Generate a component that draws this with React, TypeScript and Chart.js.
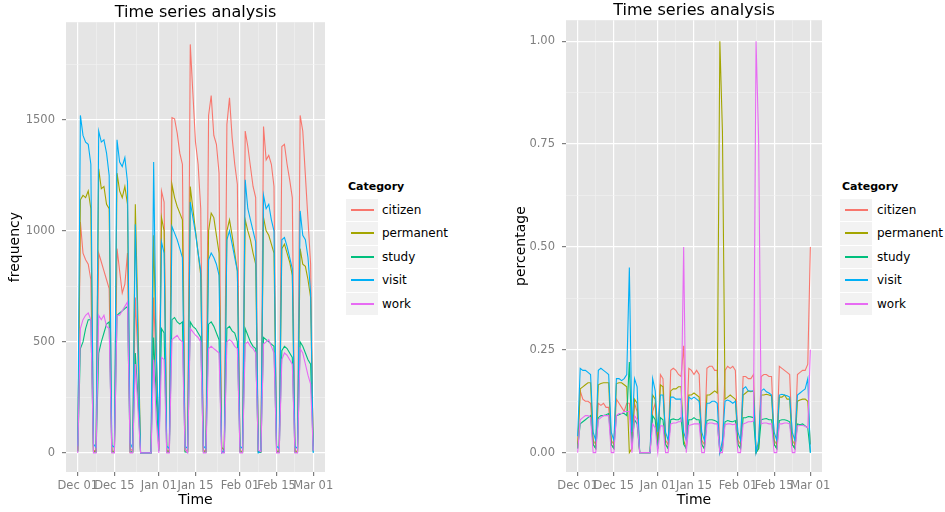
import { useEffect, useRef } from 'react';
import { Chart, ChartConfiguration, registerables } from 'chart.js';

Chart.register(...registerables);

// Categories and ggplot hue colours
const categories = ['citizen', 'permanent', 'study', 'visit', 'work'];
const colors = ['#F8766D', '#A3A500', '#00BF7D', '#00B0F6', '#E76BF3'];

// x axis: day index from Dec 01 (0) to Mar 01 (90)
const tickDays = [0, 14, 31, 45, 62, 76, 90];
const tickLabels = ['Dec 01', 'Dec 15', 'Jan 01', 'Jan 15', 'Feb 01', 'Feb 15', 'Mar 01'];
const minorDays = [7, 22.5, 38, 53.5, 69, 83];

const freqMajor = [0, 500, 1000, 1500];
const freqMinor = [250, 750, 1250, 1750];
const pctMajor = [0, 0.25, 0.5, 0.75, 1];
const pctMinor = [0.125, 0.375, 0.625, 0.875];

// frequency per day (rows = weeks, Mon..Sun)
const freqCitizen = [
  10,
  1040, 900, 870, 850, 780, 12, 8,
  900, 860, 820, 780, 740, 10, 6,
  920, 820, 720, 760, 900, 20, 8,
  700, 420, 0, 0, 0, 0, 0,
  700, 380, 25, 1180, 1130, 12, 8,
  1510, 1505, 1440, 1350, 1300, 15, 10,
  1840, 1620, 1400, 1300, 1100, 12, 8,
  1520, 1610, 1430, 1390, 1260, 6, 8,
  1480, 1600, 1420, 1300, 1210, 10, 8,
  1450, 1380, 1290, 1200, 1150, 5, 6,
  1470, 1320, 1340, 1300, 1200, 10, 8,
  1380, 1390, 1300, 1230, 1150, 10, 8,
  1520, 1450, 1250, 1050, 850, 30,
];
const freqPermanent = [
  8,
  1140, 1160, 1150, 1180, 1100, 8, 5,
  1280, 1190, 1200, 1120, 1100, 6, 5,
  1260, 1180, 1150, 1200, 1120, 3, 5,
  1120, 600, 0, 0, 0, 0, 0,
  980, 450, 15, 1060, 1000, 6, 5,
  1210, 1150, 1110, 1080, 1050, 8, 5,
  1200, 1100, 1000, 900, 800, 6, 5,
  1000, 1080, 1060, 980, 900, 25, 12,
  1000, 1050, 980, 900, 820, 6, 5,
  1050, 1000, 960, 900, 850, 4, 5,
  1060, 1000, 980, 940, 900, 6, 5,
  920, 940, 900, 860, 800, 6, 5,
  920, 850, 840, 780, 700, 10,
];
const freqStudy = [
  5,
  470, 500, 560, 600, 600, 4, 3,
  450, 500, 540, 580, 590, 4, 3,
  620, 630, 640, 650, 660, 6, 3,
  450, 250, 0, 0, 0, 0, 0,
  520, 250, 8, 560, 540, 4, 3,
  600, 610, 590, 580, 590, 4, 3,
  590, 570, 560, 540, 520, 4, 3,
  580, 590, 570, 540, 510, 3, 2,
  560, 570, 550, 540, 500, 4, 3,
  560, 530, 500, 480, 470, 3, 2,
  520, 510, 500, 490, 480, 4, 3,
  460, 480, 470, 450, 430, 3, 2,
  500, 480, 450, 420, 400, 5,
];
const freqVisit = [
  30,
  1520, 1430, 1400, 1390, 1300, 40, 25,
  1450, 1400, 1410, 1350, 1250, 35, 25,
  1410, 1310, 1290, 1330, 1220, 45, 20,
  1030, 500, 0, 0, 0, 0, 0,
  1310, 450, 60, 950, 900, 30, 20,
  1020, 990, 960, 920, 880, 30, 20,
  1130, 1060, 990, 900, 820, 30, 20,
  870, 900, 880, 850, 800, 0, 10,
  960, 1000, 940, 880, 820, 30, 20,
  1230, 1100, 1050, 1000, 950, 0, 10,
  1160, 1100, 1120, 1050, 1000, 30, 20,
  960, 970, 930, 880, 830, 30, 20,
  1090, 980, 960, 880, 720, 0,
];
const freqWork = [
  0,
  560, 600, 620, 630, 600, 0, 0,
  620, 600, 620, 570, 560, 0, 0,
  620, 620, 640, 660, 680, 0, 0,
  400, 200, 0, 0, 0, 0, 0,
  420, 150, 0, 430, 420, 0, 0,
  510, 520, 530, 510, 500, 15, 0,
  560, 545, 530, 520, 500, 0, 0,
  470, 480, 470, 460, 450, 0, 0,
  500, 510, 500, 480, 470, 0, 0,
  490, 500, 480, 470, 450, 12, 6,
  490, 500, 510, 480, 450, 0, 0,
  420, 450, 440, 420, 400, 0, 0,
  470, 450, 400, 350, 310, 10,
];

// share per day
const pctCitizen = [
  0.02,
  0.15, 0.13, 0.125, 0.125, 0.12, 0.03, 0.02,
  0.12, 0.115, 0.12, 0.11, 0.11, 0.03, 0.02,
  0.13, 0.12, 0.11, 0.10, 0.12, 0.12, 0.03,
  0.12, 0.10, 0, 0, 0, 0, 0,
  0.10, 0.12, 0.02, 0.19, 0.18, 0.03, 0.02,
  0.20, 0.205, 0.20, 0.19, 0.185, 0.26, 0.03,
  0.205, 0.20, 0.19, 0.20, 0.19, 0.03, 0.02,
  0.205, 0.21, 0.21, 0.20, 0.20, 0, 0.02,
  0.20, 0.21, 0.205, 0.21, 0.20, 0.03, 0.02,
  0.185, 0.185, 0.18, 0.18, 0.19, 0, 0.02,
  0.185, 0.19, 0.19, 0.185, 0.185, 0.03, 0.02,
  0.21, 0.205, 0.20, 0.195, 0.19, 0.03, 0.02,
  0.19, 0.195, 0.20, 0.20, 0.215, 0.5,
];
const pctPermanent = [
  0.01,
  0.155, 0.16, 0.165, 0.17, 0.17, 0.02, 0.01,
  0.165, 0.168, 0.17, 0.17, 0.17, 0.02, 0.01,
  0.168, 0.17, 0.17, 0.165, 0.16, 0, 0.01,
  0.13, 0.12, 0, 0, 0, 0, 0,
  0.14, 0.13, 0.01, 0.165, 0.16, 0.02, 0.01,
  0.15, 0.155, 0.155, 0.16, 0.16, 0.03, 0.01,
  0.14, 0.14, 0.145, 0.14, 0.135, 0.02, 0.01,
  0.14, 0.14, 0.145, 0.15, 0.145, 1.0, 0.78,
  0.13, 0.135, 0.14, 0.135, 0.13, 0.02, 0.01,
  0.14, 0.145, 0.15, 0.148, 0.15, 0, 0.01,
  0.14, 0.14, 0.142, 0.14, 0.138, 0.02, 0.01,
  0.135, 0.135, 0.14, 0.13, 0.13, 0.02, 0.01,
  0.125, 0.128, 0.13, 0.13, 0.125, 0.02,
];
const pctStudy = [
  0.01,
  0.07, 0.075, 0.08, 0.085, 0.09, 0.02, 0.01,
  0.085, 0.09, 0.09, 0.092, 0.095, 0.02, 0.01,
  0.09, 0.092, 0.095, 0.095, 0.09, 0.22, 0.02,
  0.08, 0.07, 0, 0, 0, 0, 0,
  0.09, 0.08, 0.01, 0.085, 0.08, 0.02, 0.01,
  0.08, 0.082, 0.08, 0.08, 0.085, 0.02, 0.01,
  0.08, 0.08, 0.085, 0.08, 0.08, 0.02, 0.01,
  0.078, 0.08, 0.08, 0.078, 0.075, 0, 0.01,
  0.075, 0.078, 0.076, 0.075, 0.078, 0.02, 0.01,
  0.085, 0.085, 0.088, 0.087, 0.085, 0, 0.01,
  0.08, 0.082, 0.083, 0.08, 0.08, 0.02, 0.01,
  0.078, 0.08, 0.08, 0.078, 0.075, 0.02, 0.01,
  0.07, 0.068, 0.07, 0.065, 0.06, 0,
];
const pctVisit = [
  0.04,
  0.205, 0.2, 0.2, 0.195, 0.19, 0.05, 0.03,
  0.2, 0.205, 0.2, 0.195, 0.19, 0.05, 0.03,
  0.18, 0.18, 0.175, 0.18, 0.19, 0.45, 0.05,
  0.18, 0.16, 0, 0, 0, 0, 0,
  0.18, 0.15, 0.05, 0.14, 0.14, 0.05, 0.03,
  0.135, 0.135, 0.13, 0.13, 0.13, 0.05, 0.03,
  0.135, 0.13, 0.135, 0.13, 0.125, 0.05, 0.03,
  0.12, 0.12, 0.125, 0.125, 0.12, 0, 0.03,
  0.125, 0.128, 0.125, 0.12, 0.125, 0.05, 0.03,
  0.155, 0.16, 0.15, 0.15, 0.15, 0, 0.03,
  0.15, 0.155, 0.148, 0.145, 0.14, 0.05, 0.03,
  0.14, 0.142, 0.14, 0.138, 0.135, 0.05, 0.03,
  0.14, 0.145, 0.15, 0.155, 0.18, 0,
];
const pctWork = [
  0,
  0.08, 0.085, 0.09, 0.09, 0.085, 0, 0,
  0.08, 0.085, 0.09, 0.09, 0.09, 0, 0,
  0.09, 0.095, 0.095, 0.1, 0.1, 0.1, 0,
  0.09, 0.08, 0, 0, 0, 0, 0,
  0.07, 0.06, 0, 0.065, 0.065, 0, 0,
  0.07, 0.072, 0.072, 0.075, 0.075, 0.5, 0,
  0.066, 0.068, 0.07, 0.07, 0.07, 0, 0,
  0.07, 0.072, 0.072, 0.07, 0.07, 0, 0,
  0.068, 0.07, 0.07, 0.068, 0.07, 0, 0,
  0.07, 0.072, 0.075, 0.075, 0.077, 1.0, 0.76,
  0.07, 0.072, 0.072, 0.07, 0.07, 0, 0,
  0.07, 0.07, 0.072, 0.072, 0.07, 0, 0,
  0.065, 0.066, 0.066, 0.064, 0.06, 0.25,
];

const FONT = 'DejaVu Sans';

// grey ggplot panel behind the grid
const panelBg = {
  id: 'panelBg',
  beforeDraw(chart: Chart) {
    const { ctx, chartArea } = chart;
    ctx.save();
    ctx.fillStyle = '#e5e5e5';
    ctx.fillRect(chartArea.left, chartArea.top, chartArea.width, chartArea.height);
    ctx.restore();
  },
};

interface PanelProps {
  left: number;
  width: number;
  yWidth: number;
  titleTop: number;
  series: number[][];
  yMin: number;
  yMax: number;
  yMajor: number[];
  yMinor: number[];
  yFormat: (v: number) => string;
  yTitle: string;
  yTitlePad: number;
}

function Panel(p: PanelProps) {
  const canvasRef = useRef<HTMLCanvasElement | null>(null);

  useEffect(() => {
    if (!canvasRef.current) return;
    const isMajorX = (v: number) => tickDays.includes(v);
    const isMajorY = (v: number) => p.yMajor.some(m => Math.abs(m - v) < 1e-9);

    const config: ChartConfiguration = {
      type: 'line',
      data: {
        datasets: categories.map((c, i) => ({
          label: c,
          data: p.series[i].map((v, d) => ({ x: d, y: v })),
          borderColor: colors[i],
          backgroundColor: colors[i],
          borderWidth: 1.1,
          pointRadius: 0,
          tension: 0,
          fill: false,
          order: categories.length - i,
        })),
      },
      options: {
        responsive: false,
        animation: false,
        layout: { padding: { left: 0, right: 14, top: 0, bottom: 0 } },
        plugins: {
          legend: { display: false },
          tooltip: { enabled: false },
          title: {
            display: true,
            fullSize: false,
            text: 'Time series analysis',
            color: '#000',
            font: { family: FONT, size: 16, weight: 'normal' },
            padding: { top: p.titleTop, bottom: 0 },
          },
        },
        scales: {
          x: {
            type: 'linear',
            min: -4.5,
            max: 94.5,
            afterBuildTicks: (s: any) => {
              s.ticks = [...tickDays, ...minorDays].sort((a, b) => a - b).map(v => ({ value: v }));
            },
            afterFit: (s: any) => {
              s.height = 40;
              s.paddingLeft = 0; s.paddingRight = 0; s.paddingTop = 0; s.paddingBottom = 0;
            },
            ticks: {
              autoSkip: false,
              maxRotation: 0,
              minRotation: 0,
              padding: 3,
              color: '#7f7f7f',
              font: { family: FONT, size: 11.5 },
              callback: (v: any) => {
                const i = tickDays.indexOf(Number(v));
                return i >= 0 ? tickLabels[i] : '';
              },
            },
            grid: {
              color: (ctx: any) => (isMajorX(ctx.tick?.value) ? '#ffffff' : '#f2f2f2'),
              lineWidth: (ctx: any) => (isMajorX(ctx.tick?.value) ? 1.2 : 0.6),
              tickColor: (ctx: any) => (isMajorX(ctx.tick?.value) ? '#7f7f7f' : 'rgba(0,0,0,0)'),
              tickLength: 4,
            },
            border: { display: false },
            title: {
              display: true,
              text: 'Time',
              color: '#000',
              font: { family: FONT, size: 14 },
              padding: { top: 0, bottom: 3.6 },
            },
          },
          y: {
            type: 'linear',
            min: p.yMin,
            max: p.yMax,
            afterBuildTicks: (s: any) => {
              s.ticks = [...p.yMajor, ...p.yMinor].sort((a, b) => a - b).map(v => ({ value: v }));
            },
            afterFit: (s: any) => {
              s.width = p.yWidth;
              s.paddingLeft = 0; s.paddingRight = 0; s.paddingTop = 0; s.paddingBottom = 0;
            },
            ticks: {
              autoSkip: false,
              padding: 7,
              color: '#7f7f7f',
              font: { family: FONT, size: 11.5 },
              callback: (v: any) => (isMajorY(Number(v)) ? p.yFormat(Number(v)) : ''),
            },
            grid: {
              color: (ctx: any) => (isMajorY(ctx.tick?.value) ? '#ffffff' : '#f2f2f2'),
              lineWidth: (ctx: any) => (isMajorY(ctx.tick?.value) ? 1.2 : 0.6),
              tickColor: (ctx: any) => (isMajorY(ctx.tick?.value) ? '#7f7f7f' : 'rgba(0,0,0,0)'),
              tickLength: 4,
            },
            border: { display: false },
            title: {
              display: true,
              text: p.yTitle,
              color: '#000',
              font: { family: FONT, size: 14 },
              padding: { top: p.yTitlePad, bottom: 0 },
            },
          },
        },
      },
      plugins: [panelBg],
    };

    const chart = new Chart(canvasRef.current, config);
    return () => chart.destroy();
  }, []);

  return (
    <canvas
      ref={canvasRef}
      width={p.width}
      height={512}
      style={{ position: 'absolute', left: p.left, top: 0, width: p.width, height: 512 }}
    />
  );
}

function Legend({ left, textLeft }: { left: number; textLeft: number }) {
  return (
    <div style={{ position: 'absolute', left, top: 178, fontFamily: FONT, color: '#000' }}>
      <div style={{ fontSize: 11, fontWeight: 'bold', height: 20, lineHeight: '18px', paddingLeft: 2 }}>Category</div>
      {categories.map((c, i) => (
        <div key={c} style={{ display: 'flex', alignItems: 'center', height: 23.5 }}>
          <div style={{ width: 32, height: 22.5, background: '#f2f2f2', position: 'relative' }}>
            <div
              style={{
                position: 'absolute',
                left: 4.5,
                top: 10,
                width: 23,
                height: 2,
                background: colors[i],
              }}
            />
          </div>
          <div style={{ fontSize: 12, marginLeft: textLeft - 32 }}>{c}</div>
        </div>
      ))}
    </div>
  );
}

export default function App() {
  return (
    <div style={{ position: 'absolute', left: 0, top: 0, width: 945, height: 512, background: '#fff', overflow: 'hidden' }}>
      <Panel
        left={0}
        width={339}
        yWidth={66}
        titleTop={3}
        series={[freqCitizen, freqPermanent, freqStudy, freqVisit, freqWork]}
        yMin={-86}
        yMax={1940}
        yMajor={freqMajor}
        yMinor={freqMinor}
        yFormat={v => String(v)}
        yTitle="frequency"
        yTitlePad={6.6}
      />
      <Legend left={346} textLeft={36} />
      <Panel
        left={505}
        width={331}
        yWidth={61}
        titleTop={1}
        series={[pctCitizen, pctPermanent, pctStudy, pctVisit, pctWork]}
        yMin={-0.047}
        yMax={1.051}
        yMajor={pctMajor}
        yMinor={pctMinor}
        yFormat={v => v.toFixed(2)}
        yTitle="percentage"
        yTitlePad={7.6}
      />
      <Legend left={840} textLeft={37} />
    </div>
  );
}
